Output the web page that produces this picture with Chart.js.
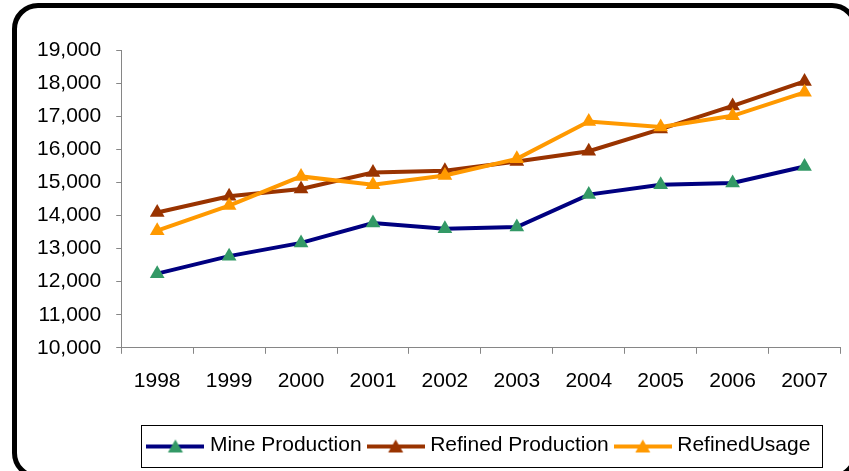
<!DOCTYPE html>
<html>
<head>
<meta charset="utf-8">
<script src="https://cdn.jsdelivr.net/npm/chart.js@4.4.1/dist/chart.umd.min.js"></script>
<style>
  body { margin: 0; background: #fff; }
  #wrap { position: relative; width: 849px; height: 471px; overflow: hidden; }
  #frame {
    position: absolute; left: 12px; top: 3px; width: 836px; height: 466px;
    border: 5px solid #000; border-radius: 26px; pointer-events: none;
  }
  #myChart { position: absolute; left: 0; top: 0; }
</style>
</head>
<body>
<div id="wrap">
  <div id="frame"></div>
  <canvas id="myChart" width="849" height="471"></canvas>
</div>
<script>
const years = ["1998", "1999", "2000", "2001", "2002", "2003", "2004", "2005", "2006", "2007"];
const mineProduction = [12240, 12770, 13170, 13770, 13600, 13650, 14630, 14930, 14980, 15480];
const refinedProduction = [14090, 14580, 14800, 15300, 15350, 15630, 15940, 16610, 17310, 18050];
const refinedUsage = [13540, 14300, 15180, 14930, 15210, 15710, 16840, 16670, 17010, 17720];
const yTicks = [10000, 11000, 12000, 13000, 14000, 15000, 16000, 17000, 18000, 19000];

const axisColor = "#868686";
const fontFamily = "'Liberation Sans', Arial, sans-serif";

// legend sample: line with the marker on it
function makeIcon(lineColor, markerColor) {
  const c = document.createElement("canvas");
  c.width = 58;
  c.height = 16;
  const g = c.getContext("2d");
  g.strokeStyle = lineColor;
  g.lineWidth = 4;
  g.beginPath();
  g.moveTo(0, 9);
  g.lineTo(58, 9);
  g.stroke();
  g.fillStyle = markerColor;
  g.beginPath();
  g.moveTo(29, 2);
  g.lineTo(36.5, 15);
  g.lineTo(21.5, 15);
  g.closePath();
  g.fill();
  return c;
}

const icons = [
  makeIcon("#000080", "#339966"),
  makeIcon("#993300", "#993300"),
  makeIcon("#FF9900", "#FF9900")
];

const legendBox = {
  id: "legendBox",
  afterDraw(chart) {
    const boxes = chart.legend.legendHitBoxes;
    if (!boxes || !boxes.length) return;
    const first = boxes[0];
    const last = boxes[boxes.length - 1];
    const cy = first.top + first.height / 2;
    const left = Math.round(first.left - 10) + 0.5;
    const right = Math.round(last.left + last.width + 12) + 0.5;
    const ctx = chart.ctx;
    ctx.save();
    ctx.strokeStyle = "#000";
    ctx.lineWidth = 1;
    ctx.strokeRect(left, Math.round(cy - 21) + 0.5, right - left, 42);
    ctx.restore();
  }
};

const ctx = document.getElementById("myChart").getContext("2d");
const chart = new Chart(ctx, {
  type: "line",
  data: {
    labels: years,
    datasets: [
      {
        label: "Mine Production",
        data: mineProduction,
        borderColor: "#000080",
        backgroundColor: "#339966",
        pointBackgroundColor: "#339966",
        pointBorderColor: "#339966",
        borderWidth: 4,
        pointStyle: "triangle",
        pointRadius: 8.5,
        pointBorderWidth: 0,
        order: 3
      },
      {
        label: "Refined Production",
        data: refinedProduction,
        borderColor: "#993300",
        backgroundColor: "#993300",
        pointBackgroundColor: "#993300",
        pointBorderColor: "#993300",
        borderWidth: 4,
        pointStyle: "triangle",
        pointRadius: 8.5,
        pointBorderWidth: 0,
        order: 2
      },
      {
        label: "RefinedUsage",
        data: refinedUsage,
        borderColor: "#FF9900",
        backgroundColor: "#FF9900",
        pointBackgroundColor: "#FF9900",
        pointBorderColor: "#FF9900",
        borderWidth: 4,
        pointStyle: "triangle",
        pointRadius: 8.5,
        pointBorderWidth: 0,
        order: 1
      }
    ]
  },
  options: {
    responsive: false,
    devicePixelRatio: 1,
    animation: false,
    layout: { padding: { left: 22, right: 8, top: 50, bottom: 5 } },
    plugins: {
      tooltip: { enabled: false },
      legend: {
        position: "bottom",
        fullSize: false,
        labels: {
          color: "#000",
          font: { family: fontFamily, size: 21 },
          usePointStyle: true,
          pointStyleWidth: 48,
          padding: 10,
          generateLabels: c => c.data.datasets.map((ds, i) => ({
            text: ds.label,
            pointStyle: icons[i],
            datasetIndex: i,
            hidden: false,
            fontColor: "#000",
            lineWidth: 0,
            strokeStyle: "transparent",
            fillStyle: "transparent"
          }))
        }
      }
    },
    scales: {
      x: {
        offset: true,
        // leave room between the year labels and the legend
        afterFit: s => { s.height += 16; },
        grid: {
          offset: true,
          drawOnChartArea: false,
          drawTicks: true,
          tickLength: 6,
          color: axisColor
        },
        border: { color: axisColor, width: 1 },
        ticks: {
          color: "#000",
          font: { family: fontFamily, size: 21 },
          padding: 15,
          maxRotation: 0
        }
      },
      y: {
        min: 10000,
        max: 19000,
        afterBuildTicks: s => { s.ticks = yTicks.map(v => ({ value: v })); },
        grid: {
          drawOnChartArea: false,
          drawTicks: true,
          tickLength: 5,
          color: axisColor
        },
        border: { color: axisColor, width: 1 },
        ticks: {
          color: "#000",
          font: { family: fontFamily, size: 21 },
          padding: 15,
          callback: v => v.toLocaleString("en-US")
        }
      }
    }
  },
  plugins: [legendBox]
});
</script>
</body>
</html>
